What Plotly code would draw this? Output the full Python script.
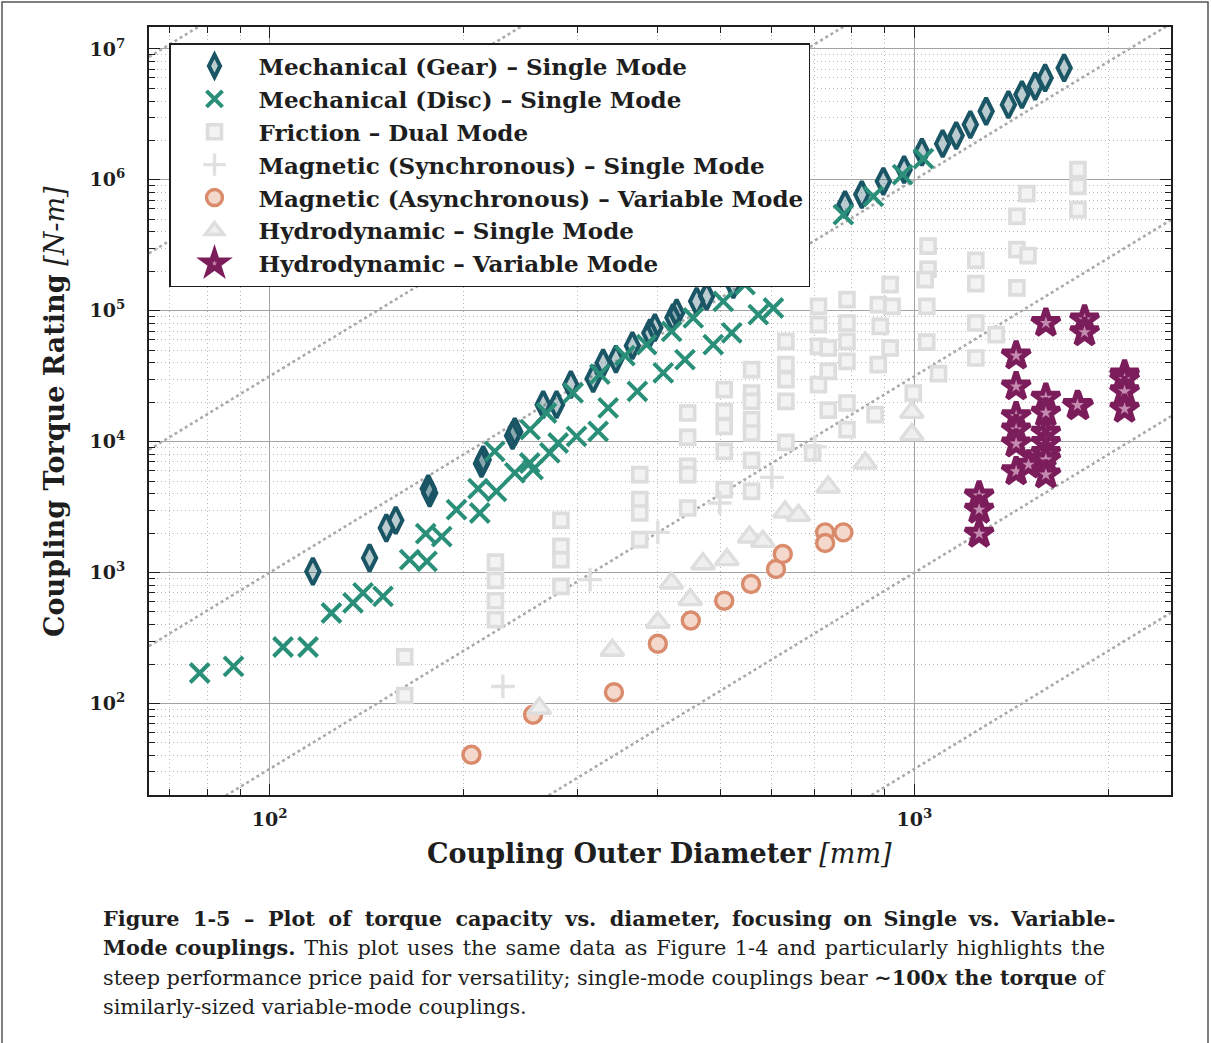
import numpy as np
import plotly.graph_objects as go

# ---- data: coupling outer diameter [mm] and torque rating [N-m] ----
gear_d = [116.7, 142.9, 151.7, 156.9, 177.1, 176.2, 213.1, 214.4, 238.1, 240.0,
          265.6, 278.6, 293.2, 317.5, 329.0, 344.4, 365.3, 388.8, 395.8, 427.8,
          422.2, 459.5, 476.2, 523.8, 780.6, 828.7, 895.0, 963.9, 1027, 1106,
          1161, 1221, 1292, 1399, 1468, 1539, 1595, 1707]
gear_t = [1021, 1293, 2191, 2506, 4056, 4374, 6790, 7290, 11110, 11920,
          19170, 19170, 27250, 30290, 39930, 42700, 54120, 67670, 74300, 96200,
          88590, 118000, 128800, 158200, 646600, 770800, 973900, 1196000, 1628000, 1890000,
          2176000, 2641000, 3337000, 3753000, 4476000, 5180000, 6004000, 7157000]

disc_d = [77.9, 87.9, 104.9, 114.7, 124.7, 134.7, 139.6, 149.9, 164.9, 175.4,
          174.6, 184.9, 194.9, 211.8, 210.5, 224.8, 223.4, 240.0, 253.2, 256.2,
          253.5, 272.0, 268.8, 280.2, 295.6, 299.2, 323.2, 325.2, 335.0, 355.6,
          371.8, 384.3, 407.8, 420.2, 440.7, 453.9, 487.5, 520.8, 505.3, 546.1,
          572.7, 604.3, 775.9, 863.8, 958.7, 1032.8]
disc_t = [171, 192, 270, 270, 491, 586, 699, 658, 1255, 1218,
          1982, 1880, 3024, 2853, 4374, 4172, 8432, 5767, 6871, 6110,
          12360, 8199, 16560, 9772, 23550, 10980, 11990, 32790, 18090, 45400,
          24210, 55080, 33480, 69600, 42300, 88100, 55080, 67670, 118000, 158200,
          93370, 105000, 542100, 748200, 1096000, 1452000]

friction_d = [162, 162, 224, 224, 224, 224, 283, 283, 283, 283,
              375, 375, 375, 375, 445, 445, 445, 445, 445,
              507, 507, 507, 507, 507, 559, 559, 559, 559, 559, 559, 559,
              632, 632, 632, 632, 632, 695, 710, 710, 710, 710,
              735, 735, 735, 786, 786, 786, 786, 786, 786,
              869, 879, 885, 879, 917, 923, 917,
              1050, 1050, 1039, 1045, 1045, 1090, 996,
              1245, 1245, 1245, 1245, 1339,
              1442, 1494, 1442, 1500, 1442, 1793, 1793, 1793]
friction_t = [227, 115, 1201, 872, 610, 437, 2506, 1585, 1255, 785,
              5600, 3606, 2853, 1784, 16560, 10790, 6475, 5600, 3115,
              24960, 16950, 13090, 8430, 4298, 35480, 23550, 20320, 14720, 11650, 7195, 4172,
              58390, 38750, 29760, 20320, 9879, 8199, 108000, 78300, 53460, 27250,
              51970, 34440, 17400, 121600, 80700, 58390, 41050, 19750, 12360,
              16080, 111300, 76000, 38750, 158200, 108000, 51970,
              311500, 207200, 172800, 108000, 57560, 33070, 23550,
              242700, 161100, 80700, 43590, 65690,
              526200, 784500, 292900, 263600, 149400, 1196000, 891800, 591900]

msync_d = [230, 314, 400, 499, 601, 701]
msync_t = [135, 883, 2028, 3404, 5337, 9120]

masync_d = [205.6, 256.2, 342, 400, 450, 507, 558, 610, 625, 727, 727, 776]
masync_t = [40.6, 82.1, 122, 286, 430, 610, 818, 1065, 1387, 2028, 1683, 2028]

hsingle_d = [262, 340, 400, 420, 449, 470, 512, 555, 582, 630, 661, 735, 839, 991, 991]
hsingle_t = [92, 255, 417, 833, 621, 1169, 1255, 1871, 1730, 2904, 2736, 4508, 6875, 16750, 11310]

hvar_d = [1260, 1260, 1260, 1438, 1438, 1438, 1438, 1438, 1438, 1503,
          1599, 1599, 1599, 1599, 1599, 1599, 1599, 1599, 1797, 1790,
          1836, 1836, 2118, 2118, 2118, 2118]
hvar_t = [3870, 3020, 1980, 45400, 26400, 15600, 12400, 9660, 5930, 6670,
          80700, 21600, 16600, 11700, 9770, 8200, 7290, 5600, 18600, 19000,
          85500, 68400, 32500, 30000, 24200, 17800]

# constant-"torque density" guides: T = 10^k * D^3
guide_log_k = [1.5, 0.0, -1.5, -3.0, -4.5, -6.0, -7.5]

x_range = (65, 2500)
y_range = (20, 1.47e7)

x_major = [100, 1000]
x_major_text = ["<b>10<sup>2</sup></b>", "<b>10<sup>3</sup></b>"]
y_major = [1e2, 1e3, 1e4, 1e5, 1e6, 1e7]
y_major_text = ["<b>10<sup>%d</sup></b>" % p for p in range(2, 8)]

FONT = "DejaVu Serif"
INK = "#1e1e1e"
THIN = "\u2009"   # thin space used to justify caption lines
HAIR = "\u200a"   # hair space

fig = go.Figure()

gx = np.array(x_range, dtype=float)
for k in guide_log_k:
    fig.add_trace(go.Scatter(
        x=gx, y=10.0 ** k * gx ** 3, mode="lines",
        line=dict(color="#aaaaaa", width=2.6, dash="dot"),
        showlegend=False, hoverinfo="skip"))

series = [
    ("Mechanical (Gear) – Single Mode", gear_d, gear_t,
     dict(symbol="diamond-tall", size=19, color="rgba(26,85,101,0.30)",
          line=dict(color="#1a5565", width=4))),
    ("Mechanical (Disc) – Single Mode", disc_d, disc_t,
     dict(symbol="x-thin", size=19, color="#2a8f78",
          line=dict(color="#2a8f78", width=4))),
    ("Friction – Dual Mode", friction_d, friction_t,
     dict(symbol="square", size=14, color="#f3f3f3",
          line=dict(color="#dddddd", width=3.6))),
    ("Magnetic (Synchronous) – Single Mode", msync_d, msync_t,
     dict(symbol="cross-thin", size=17, color="#e0e0e0",
          line=dict(color="#e0e0e0", width=3.4))),
    ("Magnetic (Asynchronous) – Variable Mode", masync_d, masync_t,
     dict(symbol="circle", size=17, color="#f4d8cb",
          line=dict(color="#d98b6b", width=3.4))),
    ("Hydrodynamic – Single Mode", hsingle_d, hsingle_t,
     dict(symbol="triangle-up", size=20, color="#efefef",
          line=dict(color="#dedede", width=3.4))),
    ("Hydrodynamic – Variable Mode", hvar_d, hvar_t,
     dict(symbol="star", size=21, color="#c58ab0",
          line=dict(color="#7c1d5b", width=5))),
]

for name, xs, ys, mk in series:
    fig.add_trace(go.Scatter(x=xs, y=ys, mode="markers", name=name, marker=mk))

axis_common = dict(
    type="log", ticks="inside", ticklen=11, tickwidth=1.4, tickcolor=INK,
    showline=True, linecolor=INK, linewidth=2, mirror="allticks",
    showgrid=True, gridcolor="#a3a3a3", gridwidth=1.3, zeroline=False,
    tickfont=dict(family=FONT, size=19, color=INK),
)

minor_x = [v * m for v in (10, 100, 1000) for m in range(2, 10)]
minor_x = [v for v in minor_x if x_range[0] < v < x_range[1]]
minor_y = [v * m for v in (10, 1e2, 1e3, 1e4, 1e5, 1e6, 1e7) for m in range(2, 10)]
minor_y = [v for v in minor_y if y_range[0] <= v < y_range[1]]

minor_common = dict(ticks="inside", ticklen=6, tickwidth=1.2, tickcolor=INK,
                    showgrid=True, gridcolor="#b8b8b8", gridwidth=1,
                    griddash="1px,3px")

fig.update_xaxes(range=[np.log10(x_range[0]), np.log10(x_range[1])],
                 tickvals=x_major, ticktext=x_major_text, ticklabelstandoff=6,
                 minor=dict(tickvals=minor_x, **minor_common), **axis_common)
fig.update_yaxes(range=[np.log10(y_range[0]), np.log10(y_range[1])],
                 tickvals=y_major, ticktext=y_major_text, ticklabelstandoff=18,
                 minor=dict(tickvals=minor_y, **minor_common), **axis_common)

L, R, T, B = 149, 40, 27, 248
W, H = 1211, 1043
pw, ph = W - L - R, H - T - B


def px(xp):
    return (xp - L) / pw


def py(yp):
    return (H - B - yp) / ph


annotations = [
    dict(text="<b>Coupling Outer Diameter</b> <i>[mm]</i>", x=px(659), y=py(853),
         xref="paper", yref="paper", showarrow=False, xanchor="center", yanchor="middle",
         font=dict(family=FONT, size=27, color=INK)),
    dict(text="<b>Coupling Torque Rating</b> <i>[N-m]</i>", x=px(55), y=py(412),
         xref="paper", yref="paper", showarrow=False, xanchor="center", yanchor="middle",
         textangle=-90, font=dict(family=FONT, size=27, color=INK)),
]


def spread(text, pad, extra=0):
    # widen inter-word gaps so a caption line fills the text block;
    # the first `extra` gaps get one more hair space
    words = text.split(" ")
    out = words[0]
    for i, w in enumerate(words[1:]):
        out += " " + pad + (HAIR if i < extra else "") + w
    return out


caption = [
    (spread("Figure 1-5 – Plot of torque capacity vs. diameter, focusing on Single vs. Variable-", THIN, 8),
     True),
    ("<b>Mode couplings.</b>" + spread(" This plot uses the same data as Figure 1-4 and particularly highlights the", HAIR),
     False),
    ("steep performance price paid for versatility; single-mode couplings bear <b>∼100<i>x</i> the torque</b> of",
     False),
    ("similarly-sized variable-mode couplings.", False),
]
for i, (line, bold) in enumerate(caption):
    annotations.append(dict(
        text=("<b>%s</b>" % line) if bold else line,
        x=px(101), y=py(918 + 29.5 * i), xref="paper", yref="paper",
        showarrow=False, xanchor="left", yanchor="middle",
        font=dict(family=FONT, size=20.8, color=INK)))

shapes = [
    dict(type="rect", xref="paper", yref="paper", x0=px(2), x1=px(1208), y0=py(1060), y1=py(2),
         line=dict(color="#555555", width=1.5), fillcolor="rgba(0,0,0,0)", layer="below"),
]

fig.update_layout(
    width=W, height=H, margin=dict(l=L, r=R, t=T, b=B, pad=0),
    paper_bgcolor="white", plot_bgcolor="white",
    font=dict(family=FONT, color=INK),
    annotations=annotations, shapes=shapes,
    legend=dict(x=px(169), y=py(43), xanchor="left", yanchor="top",
                bgcolor="white", bordercolor=INK, borderwidth=1.5,
                font=dict(family=FONT, size=23, color=INK, weight="bold"),
                itemwidth=78, tracegroupgap=0, traceorder="normal"),
)

fig.write_html("out.html")
